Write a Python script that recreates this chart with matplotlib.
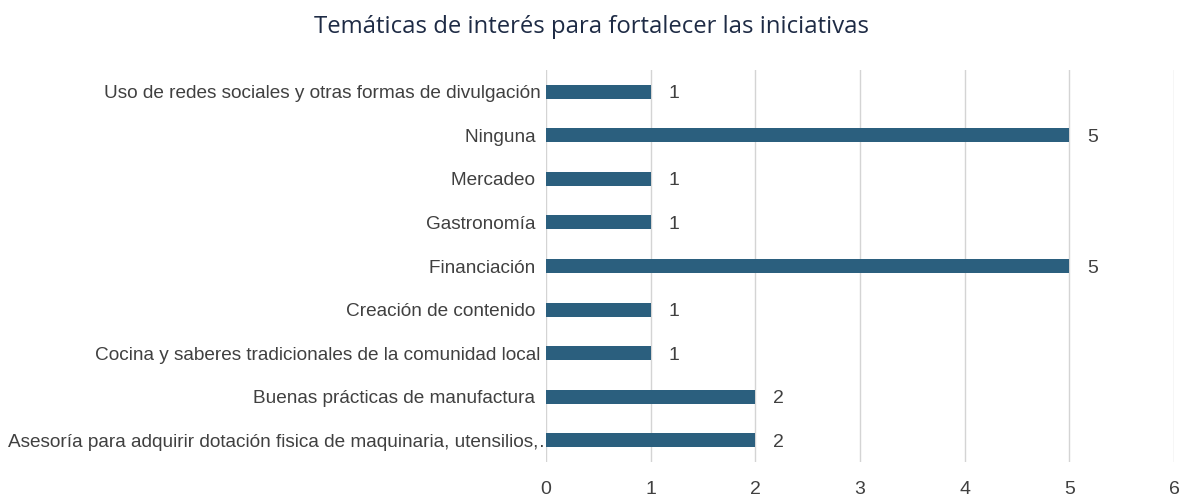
import matplotlib
matplotlib.use("Agg")
import matplotlib.pyplot as plt

categories = [
    "Asesoría para adquirir dotación fisica de maquinaria, utensilios,…",
    "Buenas prácticas de manufactura ",
    "Cocina y saberes tradicionales de la comunidad local",
    "Creación de contenido ",
    "Financiación ",
    "Gastronomía ",
    "Mercadeo ",
    "Ninguna ",
    "Uso de redes sociales y otras formas de divulgación",
]
values = [2, 2, 1, 1, 5, 1, 1, 5, 1]
xticks = [0, 1, 2, 3, 4, 5, 6]
title = "Temáticas de interés para fortalecer las iniciativas"

bar_color = "#2b5f7e"
text_color = "#404040"
label_fs = 13.7

fig = plt.figure(figsize=(11.81, 4.99), dpi=100)
ax = fig.add_axes([0.4623, 0.0741, 0.5318, 0.7856])

pos = list(range(len(categories)))
ax.barh(pos, values, height=0.32, color=bar_color, zorder=3)
for p, v in zip(pos, values):
    ax.text(v + 0.17, p, str(v), va="center_baseline", ha="left", fontsize=14,
            color=text_color, family="Liberation Sans")

ax.set_xlim(0, 6)
ax.set_ylim(-0.5, len(categories) - 0.5)
ax.set_xticks(xticks)
ax.set_xticklabels([str(t) for t in xticks], fontsize=14, color=text_color,
                   family="Liberation Sans")
ax.set_yticks(pos)
# the first (long) label overflows under its bar, so it is drawn separately
ax.set_yticklabels([""] + categories[1:], fontsize=label_fs, color=text_color,
                   family="Liberation Sans")
ax.annotate(categories[0], xy=(0, pos[0]), xycoords=("axes fraction", "data"),
            xytext=(8, 0), textcoords="offset points", ha="right",
            va="center_baseline", fontsize=label_fs, color=text_color,
            family="Liberation Sans", zorder=2, annotation_clip=False)
ax.tick_params(axis="both", length=0)
ax.tick_params(axis="x", pad=14)
ax.tick_params(axis="y", pad=4)
ax.set_axisbelow(True)
ax.grid(axis="x", color="#d4d4d4", linewidth=1)
for s in ax.spines.values():
    s.set_visible(False)

fig.text(0.501, 0.945, title, ha="center", va="center", fontsize=17.2,
         color="#1e2b45", family="Open Sans")

fig.savefig("out.png", dpi=100)
